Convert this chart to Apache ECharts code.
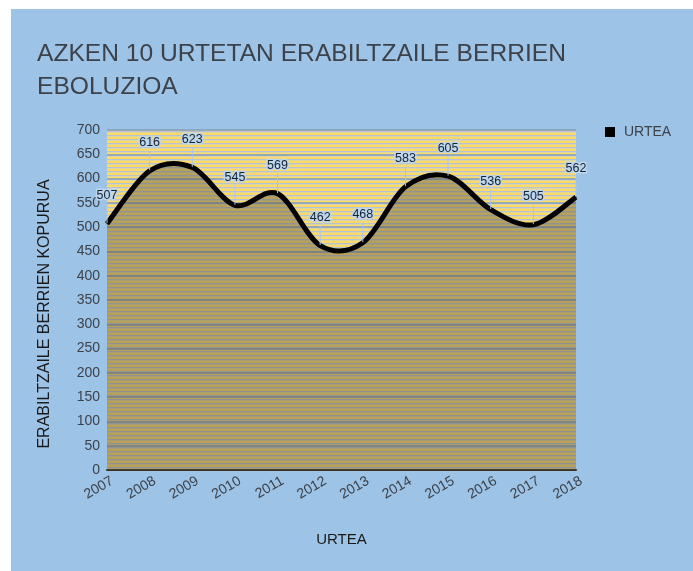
<!DOCTYPE html>
<html>
<head>
<meta charset="utf-8">
<script src="https://cdn.jsdelivr.net/npm/echarts@6/dist/echarts.min.js"></script>
<style>
  html, body { margin: 0; padding: 0; background: #ffffff; }
  #main { position: absolute; left: 11px; top: 9px; width: 682px; height: 562px; }
</style>
</head>
<body>
<div id="main"></div>
<script>
var years = ['2007', '2008', '2009', '2010', '2011', '2012', '2013', '2014', '2015', '2016', '2017', '2018'];
var newUsers = [507, 616, 623, 545, 569, 462, 468, 583, 605, 536, 505, 562];
var yTicks = { min: 0, max: 700, step: 50 };

// striped plot background, like the spreadsheet pattern fill
function stripes(rows) {
    var c = document.createElement('canvas');
    c.width = 8;
    c.height = rows.length;
    var ctx = c.getContext('2d');
    rows.forEach(function (col, i) {
        ctx.fillStyle = col;
        ctx.fillRect(0, i, 8, 1);
    });
    return c;
}
var bgPattern = stripes(['#FFD966', '#FFD966', '#B4C4D6', '#DCD6A4']);

// spreadsheet style smoothing (catmull-rom), points come from the axes
function renderCurve(params, api) {
    if (params.dataIndex !== 0) return;
    var pts = newUsers.map(function (v, i) { return api.coord([i, v]); });
    var base = api.coord([0, 0])[1];
    var n = pts.length;
    var d = 'M' + pts[0][0] + ',' + pts[0][1];
    for (var i = 0; i < n - 1; i++) {
        var p0 = pts[Math.max(i - 1, 0)], p1 = pts[i], p2 = pts[i + 1], p3 = pts[Math.min(i + 2, n - 1)];
        var c1x = p1[0] + (p2[0] - p0[0]) / 6, c1y = p1[1] + (p2[1] - p0[1]) / 6;
        var c2x = p2[0] - (p3[0] - p1[0]) / 6, c2y = p2[1] - (p3[1] - p1[1]) / 6;
        d += ' C' + c1x + ',' + c1y + ' ' + c2x + ',' + c2y + ' ' + p2[0] + ',' + p2[1];
    }
    var area = d + ' L' + pts[n - 1][0] + ',' + base + ' L' + pts[0][0] + ',' + base + ' Z';
    return {
        type: 'group',
        children: [
            { type: 'path', shape: { pathData: area }, style: { fill: 'rgba(90, 80, 60, 0.42)' } },
            { type: 'path', shape: { pathData: d }, style: { fill: 'none', stroke: '#000000', lineWidth: 5, lineJoin: 'round' } }
        ]
    };
}

var chart = echarts.init(document.getElementById('main'));
var option = {
    backgroundColor: '#9DC3E6',
    textStyle: { fontFamily: 'Liberation Sans, Arial, sans-serif' },
    title: {
        text: 'AZKEN 10 URTETAN ERABILTZAILE BERRIEN\nEBOLUZIOA',
        left: 21,
        top: 24,
        textStyle: { fontSize: 24.6, fontWeight: 'normal', color: '#3d424a', lineHeight: 33 }
    },
    legend: {
        left: 589,
        top: 111,
        icon: 'rect',
        itemWidth: 10,
        itemHeight: 10,
        itemGap: 6,
        textStyle: { fontSize: 14, color: '#3d424a', padding: [0, 0, 0, 4] },
        data: ['URTEA']
    },
    grid: {
        show: true,
        left: 96,
        top: 121,
        width: 469,
        height: 340,
        borderWidth: 0,
        backgroundColor: { image: bgPattern, repeat: 'repeat' }
    },
    xAxis: {
        type: 'category',
        data: years,
        boundaryGap: false,
        name: 'URTEA',
        nameLocation: 'middle',
        nameGap: 62,
        nameTextStyle: { fontSize: 15, color: '#1a1a1a' },
        axisLine: { lineStyle: { color: '#3a3320', width: 2 } },
        axisTick: { show: false },
        axisLabel: { rotate: 30, fontSize: 14, color: '#3d424a', margin: 13, padding: [0, -6, 0, 0] }
    },
    yAxis: {
        type: 'value',
        min: yTicks.min,
        max: yTicks.max,
        interval: yTicks.step,
        name: 'ERABILTZAILE BERRIEN KOPURUA',
        nameLocation: 'middle',
        nameGap: 54,
        nameTextStyle: { fontSize: 16, color: '#1a1a1a', padding: [0, 28, 0, 0] },
        axisLine: { show: false },
        axisTick: { show: false },
        axisLabel: { fontSize: 14, color: '#3d424a', margin: 7 },
        splitLine: { lineStyle: { color: '#7f9cc2', width: 1.5 } }
    },
    series: [{
        name: 'curve',
        type: 'custom',
        data: newUsers.map(function (v, i) { return [i, v]; }),
        renderItem: renderCurve,
        silent: true,
        z: 2
    }, {
        name: 'URTEA',
        type: 'line',
        data: newUsers,
        symbol: 'circle',
        symbolSize: 1,
        itemStyle: { color: '#000000' },
        lineStyle: { opacity: 0 },
        z: 3,
        label: {
            show: true,
            position: 'top',
            distance: 4,
            fontSize: 12.5,
            color: '#16222f',
            textBorderColor: '#bcd6f0',
            textBorderWidth: 3
        },
        labelLayout: { dy: -17 },
        labelLine: { show: true, lineStyle: { color: '#a9c6e6', width: 1 } }
    }]
};
chart.setOption(option);
window.addEventListener('resize', () => chart.resize());
</script>
</body>
</html>
